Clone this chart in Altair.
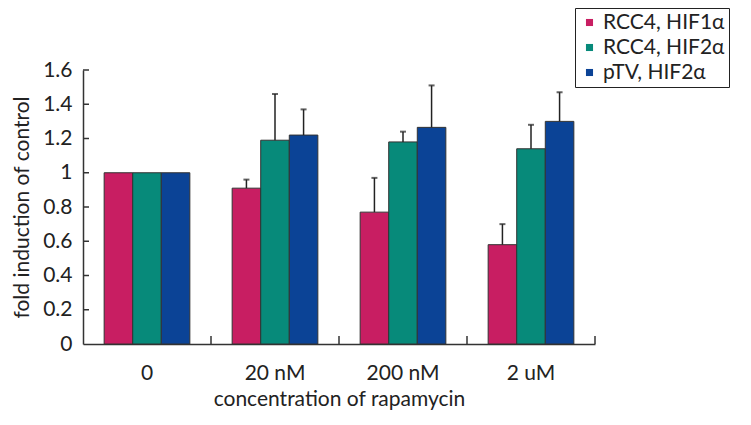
import altair as alt
import pandas as pd

concentrations = ["0", "20 nM", "200 nM", "2 uM"]
series = ["RCC4, HIF1α", "RCC4, HIF2α", "pTV, HIF2α"]
colors = ["#C81E62", "#078A7A", "#0B4396"]

hif1_rcc4 = [1.0, 0.91, 0.77, 0.58]
hif1_rcc4_err = [None, 0.96, 0.97, 0.70]
hif2_rcc4 = [1.0, 1.19, 1.18, 1.14]
hif2_rcc4_err = [None, 1.46, 1.24, 1.28]
hif2_ptv = [1.0, 1.22, 1.265, 1.30]
hif2_ptv_err = [None, 1.37, 1.51, 1.47]

y_ticks = [0, 0.2, 0.4, 0.6, 0.8, 1.0, 1.2, 1.4, 1.6]

rows = []
for s, vals, errs in [(series[0], hif1_rcc4, hif1_rcc4_err),
                      (series[1], hif2_rcc4, hif2_rcc4_err),
                      (series[2], hif2_ptv, hif2_ptv_err)]:
    for c, v, e in zip(concentrations, vals, errs):
        rows.append({"conc": c, "series": s, "value": v, "err": e})
df = pd.DataFrame(rows)
err_df = df.dropna(subset=["err"])

FONT = "Lato"
W, H = 512, 274

x_scale = alt.Scale(domain=concentrations, paddingInner=0, paddingOuter=0)
x_axis = alt.Axis(title="concentration of rapamycin", labelAngle=0,
                  ticks=False, labelPadding=18, titlePadding=5,
                  domainColor="#333", domainWidth=1.5,
                  labelFontSize=21, titleFontSize=21,
                  labelFont=FONT, titleFont=FONT, titleFontWeight="normal",
                  labelColor="#222", titleColor="#222")
y_axis = alt.Axis(title="fold induction of control", values=y_ticks,
                  labelExpr="format(datum.value, '~g')", labelOverlap=False,
                  ticks=False, grid=False, labelPadding=11, titlePadding=10,
                  domainColor="#333", domainWidth=1.5,
                  labelFontSize=21, titleFontSize=21,
                  labelFont=FONT, titleFont=FONT, titleFontWeight="normal",
                  labelColor="#222", titleColor="#222")
xoff = alt.XOffset("series:N", sort=series,
                   scale=alt.Scale(domain=series, paddingInner=0, paddingOuter=0.74))
y_scale = alt.Scale(domain=[0, 1.6], nice=False, zero=True)


def X(**kw):
    return alt.X("conc:N", sort=concentrations, scale=x_scale, axis=x_axis, **kw)


def Y(field):
    return alt.Y(field, scale=y_scale, axis=y_axis)


bars = alt.Chart(df).mark_bar(stroke="#333", strokeWidth=1).encode(
    x=X(),
    xOffset=xoff,
    y=Y("value:Q"),
    color=alt.Color("series:N", sort=series,
                    scale=alt.Scale(domain=series, range=colors),
                    legend=alt.Legend(title=None, orient="none", legendX=492, legendY=-62,
                                      symbolType="square", symbolSize=50,
                                      symbolStrokeWidth=0,
                                      labelFontSize=21, labelFont=FONT, labelColor="#222",
                                      rowPadding=3, labelOffset=3,
                                      strokeColor="#222", padding=4,
                                      fillColor="white")),
)

err_rules = alt.Chart(err_df).mark_rule(color="#222", strokeWidth=1.5).encode(
    x=X(),
    xOffset=xoff,
    y=Y("value:Q"),
    y2="err:Q",
)
err_caps = alt.Chart(err_df).mark_tick(color="#222", thickness=2, size=6,
                                       orient="horizontal").encode(
    x=X(),
    xOffset=xoff,
    y=Y("err:Q"),
)

ytick_df = pd.DataFrame({"v": y_ticks[1:]})
ytick_rules = alt.Chart(ytick_df).mark_rule(color="#333", strokeWidth=1.5).encode(
    y=Y("v:Q"),
    x=alt.value(0),
    x2=alt.value(6),
)

xtick_df = pd.DataFrame({"conc": concentrations})
xtick_rules = alt.Chart(xtick_df).mark_rule(color="#333", strokeWidth=1.5).encode(
    x=X(bandPosition=1),
    y=alt.value(H),
    y2=alt.value(H - 8),
)

chart = alt.layer(bars, err_rules, err_caps, ytick_rules, xtick_rules).properties(
    width=W, height=H,
    autosize=alt.AutoSizeParams(type="none"),
    padding={"left": 75, "top": 62, "right": 140, "bottom": 70},
).configure_view(stroke=None).configure_axisY(labelOverlap=False)

chart.save("out.html", embed_options={"renderer": "svg", "actions": False})
